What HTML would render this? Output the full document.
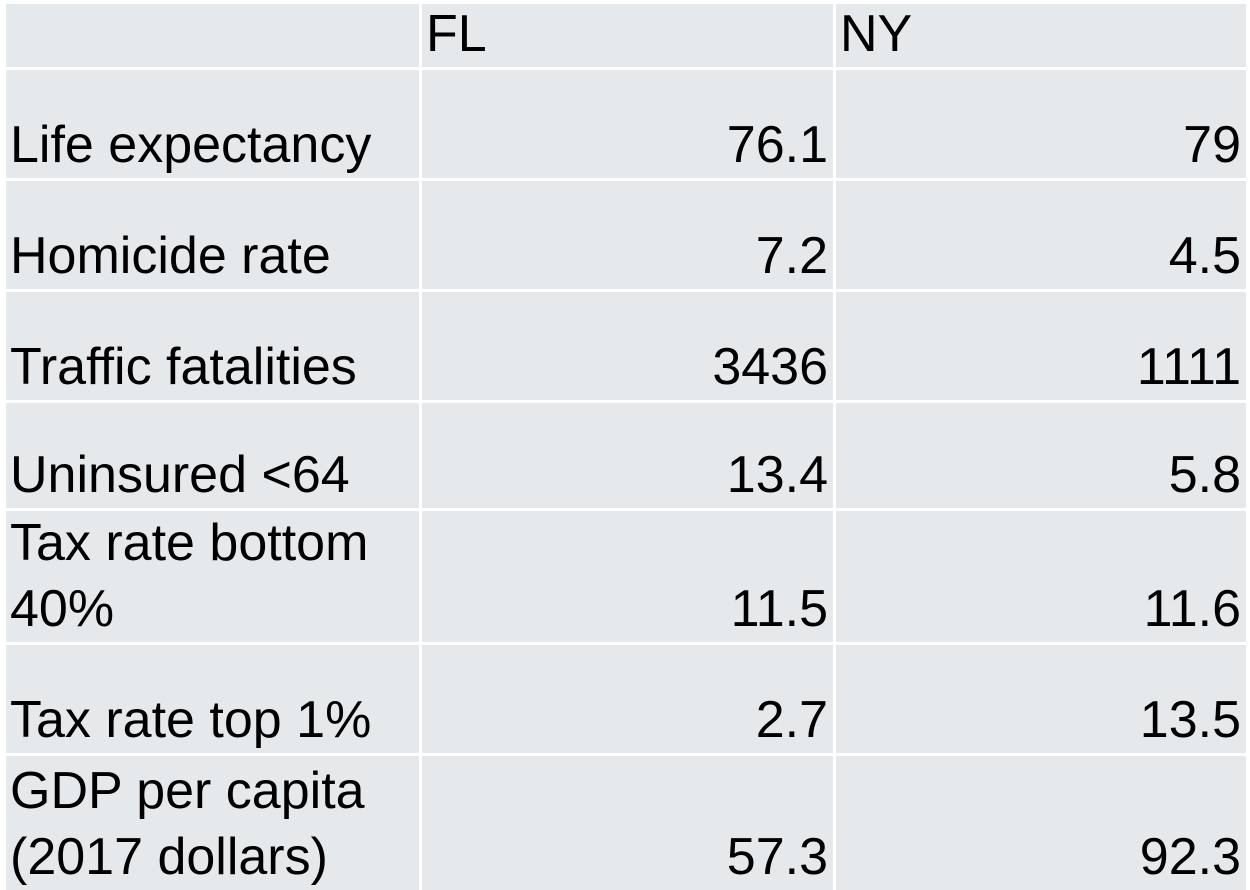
<!DOCTYPE html>
<html><head><meta charset="utf-8"><style>
body{margin:0;width:1250px;height:890px;background:#fff;position:relative;overflow:hidden;font-family:"Liberation Sans",sans-serif;}
.c{position:absolute;background:#e6e9ec;color:#000;font-size:52px;line-height:66px;display:flex;align-items:flex-end;box-sizing:border-box;padding:0 5px 0 4px;}
.r{justify-content:flex-end;}
</style></head><body>
<script>
const rowLabels=["","Life expectancy","Homicide rate","Traffic fatalities","Uninsured &lt;64","Tax rate bottom<br>40%","Tax rate top 1%","GDP per capita<br>(2017 dollars)"];
const flValues=["FL","76.1","7.2","3436","13.4","11.5","2.7","57.3"];
const nyValues=["NY","79","4.5","1111","5.8","11.6","13.5","92.3"];
const rowsY=[[4,67],[70,178],[181,289],[292,400],[403,508],[511,642],[645,753],[756,890]];
const colsX=[[6,419],[422,833],[836,1246]];
rowsY.forEach((ry,i)=>{
  [rowLabels[i],flValues[i],nyValues[i]].forEach((t,j)=>{
    const d=document.createElement('div');
    d.className='c'+(i>0&&j>0?' r':'');
    d.style.left=colsX[j][0]+'px';d.style.width=(colsX[j][1]-colsX[j][0])+'px';
    d.style.top=ry[0]+'px';d.style.height=(ry[1]-ry[0])+'px';
    d.innerHTML='<span>'+t+'</span>';
    
    
    document.body.appendChild(d);
  });
});
</script>
</body></html>
